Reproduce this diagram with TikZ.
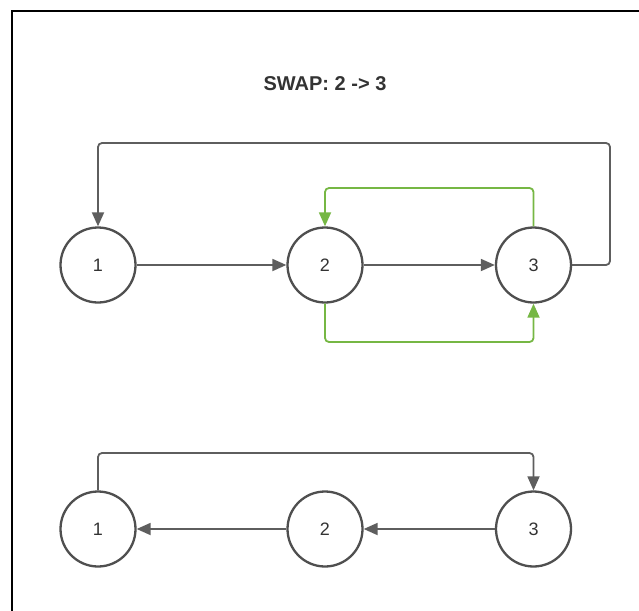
\documentclass[tikz,border=0pt]{standalone}
\usepackage{fontspec}
\setmainfont{Liberation Sans}
\usetikzlibrary{arrows.meta}
\definecolor{edgegray}{HTML}{5E5E5E}
\definecolor{ringgray}{HTML}{4F4F4F}
\definecolor{inkgray}{HTML}{333333}
\definecolor{swapgreen}{HTML}{76B744}
\begin{document}
\begin{tikzpicture}[x=1pt,y=-1pt,
  state/.style={circle, draw=ringgray, line width=2.3pt, fill=white,
    minimum size=75pt, inner sep=0pt, text=inkgray,
    font=\fontsize{18}{18}\selectfont},
  link/.style={draw=edgegray, line width=1.8pt, rounded corners=4pt,
    -{Triangle[length=14pt,width=12pt]}},
  swaplink/.style={link, draw=swapgreen},
  frameline/.style={draw=black, line width=2.2pt}]
\useasboundingbox (0,0) rectangle (639,610);

% page frame (top and left edges)
\coordinate (fbl) at (12,612);
\coordinate (ftl) at (12,11);
\coordinate (ftr) at (641,11);
\draw[frameline] (fbl) -- (ftl) -- (ftr);

% title
\node[font=\bfseries\fontsize{20}{20}\selectfont, text=inkgray] (title) at (325,84) {SWAP: 2 -> 3};

% list before the swap
\node[state] (a1) at (98,265) {1};
\node[state] (a2) at (325,265) {2};
\node[state] (a3) at (533.5,265) {3};

% list after the swap
\node[state] (b1) at (98,529) {1};
\node[state] (b2) at (325,529) {2};
\node[state] (b3) at (533.5,529) {3};

% waypoints for the bent connectors
\coordinate (loopcorner) at (610,143);
\coordinate (gtop) at (325,188);
\coordinate (gbot) at (325,342);
\coordinate (btop) at (98,453);

% upper row
\draw[link] (a1) -- (a2);
\draw[link] (a2) -- (a3);
\draw[link] (a3.east) -| (loopcorner) -| (a1.north);
\draw[swaplink] (a3.north) |- (gtop) -- (a2.north);
\draw[swaplink] (a2.south) -- (gbot) -| (a3.south);

% lower row
\draw[link] (b3) -- (b2);
\draw[link] (b2) -- (b1);
\draw[link] (b1.north) -- (btop) -| (b3.north);
\end{tikzpicture}
\end{document}
